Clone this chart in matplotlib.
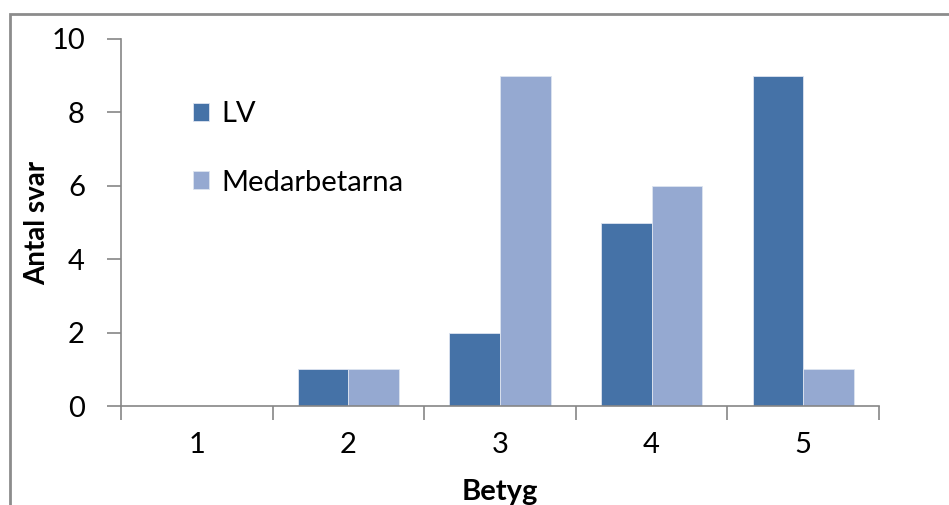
import numpy as np
import matplotlib
matplotlib.use("Agg")
import matplotlib.pyplot as plt
from matplotlib.patches import Rectangle

# Betyg 1-5, antal svar per grupp
betyg = ["1", "2", "3", "4", "5"]
lv = [0, 1, 2, 5, 9]
medarbetarna = [0, 1, 9, 6, 1]

plt.rcParams['font.family'] = ['Lato', 'DejaVu Sans']

fig = plt.figure(figsize=(9.49, 5.05), dpi=100)
ax = fig.add_axes([0.1275, 0.196, 0.7987, 0.7268])

# ram runt diagrammet (går utanför bilden till höger och nederst)
fig.patches.append(Rectangle((10 / 949, -0.1), 1.2, 1 - 14 / 505 + 0.1,
                             transform=fig.transFigure, fill=False,
                             edgecolor="#8c8c8c", linewidth=2))

x = np.arange(1, len(betyg) + 1)
w = 1 / 3
ax.bar(x - w / 2, lv, width=w, color="#4572a7", edgecolor="#dde4f0",
       linewidth=0.6, label="LV")
ax.bar(x + w / 2, medarbetarna, width=w, color="#95a9d1", edgecolor="#dde4f0",
       linewidth=0.6, label="Medarbetarna")

ax.set_xlim(0.5, 5.5)
ax.set_ylim(0, 10)
ax.set_yticks(range(0, 11, 2))
ax.set_xticks(x)
ax.set_xticklabels(betyg)
ax.set_xticks(np.arange(0.5, 6, 1), minor=True)

for s in ["top", "right"]:
    ax.spines[s].set_visible(False)
for s in ["left", "bottom"]:
    ax.spines[s].set_color("#868686")
    ax.spines[s].set_linewidth(1.2)

ax.tick_params(axis="y", length=10, width=1.2, color="#868686", pad=16, labelsize=21)
ax.tick_params(axis="x", which="major", length=0, pad=19, labelsize=21)
ax.tick_params(axis="x", which="minor", length=10, width=1.2, color="#868686")

ax.set_ylabel("Antal svar", fontsize=20, fontweight="bold", labelpad=1)
ax.set_xlabel("Betyg", fontsize=21, fontweight="bold", labelpad=15)

ax.legend(loc="upper left", bbox_to_anchor=(0.08, 0.862), frameon=False,
          fontsize=21, handlelength=0.55, handleheight=0.55, handletextpad=0.4,
          labelspacing=1.45, borderaxespad=0)

fig.savefig("out.png", dpi=100)
